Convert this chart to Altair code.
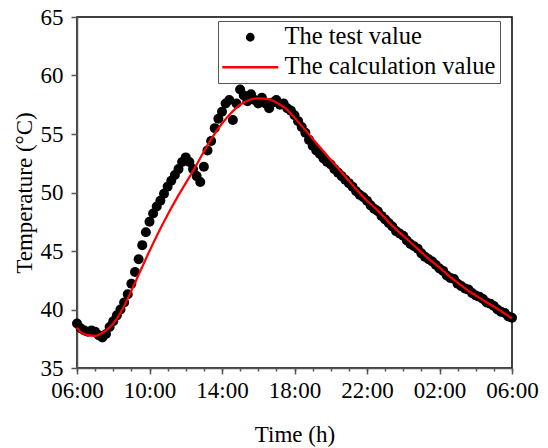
import altair as alt
import pandas as pd

SERIES = ["The test value", "The calculation value"]

# Hours after 06:00, sampled every 0.2 h
test_hours = [round(i * 0.2, 1) for i in range(121)]
test_temp = [
    38.8, 38.4, 38.2, 38.1, 38.2,   # 0-1
    38.1, 37.8, 37.6, 37.9, 38.5,   # 1-2
    39.0, 39.5, 40.0, 40.6, 41.3,   # 2-3
    42.2, 43.2, 44.3, 45.5, 46.6,   # 3-4
    47.5, 48.2, 48.8, 49.3, 49.9,   # 4-5
    50.5, 51.0, 51.5, 52.0, 52.6,   # 5-6
    53.0, 52.6, 52.0, 51.4, 50.9,   # 6-7
    52.2, 53.6, 54.4, 55.5, 56.3,   # 7-8
    56.9, 57.6, 57.9, 56.2, 57.6,   # 8-9
    58.8, 58.3, 57.8, 58.4, 57.9,   # 9-10
    57.6, 58.1, 57.6, 57.2, 57.7,   # 10-11
    57.9, 57.5, 57.6, 57.2, 57.0,   # 11-12
    56.6, 56.1, 55.6, 55.1, 54.5,   # 12-13
    54.0, 53.6, 53.3, 52.9, 52.6,   # 13-14
    52.4, 52.0, 51.7, 51.4, 51.1,   # 14-15
    50.8, 50.5, 50.1, 49.8, 49.6,   # 15-16
    49.3, 48.9, 48.6, 48.4, 48.0,   # 16-17
    47.7, 47.4, 47.1, 46.7, 46.5,   # 17-18
    46.3, 45.9, 45.6, 45.4, 45.2,   # 18-19
    44.8, 44.5, 44.3, 44.1, 43.8,   # 19-20
    43.5, 43.3, 42.9, 42.7, 42.6,   # 20-21
    42.2, 42.0, 41.8, 41.7, 41.4,   # 21-22
    41.2, 41.1, 40.9, 40.6, 40.5,   # 22-23
    40.3, 40.0, 39.8, 39.7, 39.4,   # 23-24
    39.3,
]

calc_hours = [0.0, 0.25, 0.5, 1.0, 1.5, 2.0, 2.5, 3.0, 3.5, 4.0, 4.5, 5.0, 5.5, 6.0,
              6.5, 7.0, 7.5, 8.0, 8.5, 9.0, 9.5, 10.0, 10.5, 11.0, 11.5, 12.0, 12.5,
              13.0, 13.5, 14.0, 14.5, 15.0, 15.5, 16.0, 16.5, 17.0, 17.5, 18.0, 18.5,
              19.0, 19.5, 20.0, 20.5, 21.0, 21.5, 22.0, 22.5, 23.0, 23.5, 24.0]
calc_temp = [38.45, 38.0, 37.85, 37.75, 38.1, 38.8, 40.0, 41.6, 43.3, 45.0, 46.6, 48.1,
             49.5, 50.8, 52.1, 53.5, 54.8, 55.9, 56.8, 57.5, 57.9, 58.05, 58.0, 57.7,
             57.2, 56.4, 55.5, 54.6, 53.7, 52.8, 51.9, 51.0, 50.1, 49.3, 48.6, 47.8,
             47.0, 46.3, 45.6, 44.9, 44.2, 43.6, 42.9, 42.3, 41.7, 41.2, 40.7, 40.25,
             39.75, 39.25]

major_ticks = [0, 4, 8, 12, 16, 20, 24]
minor_ticks = list(range(0, 25))
y_ticks = [35, 40, 45, 50, 55, 60, 65]

df_test = pd.DataFrame({"h": test_hours, "T": test_temp, "series": SERIES[0]})
df_calc = pd.DataFrame({"h": calc_hours, "T": calc_temp, "series": SERIES[1]})

AXFONT = "Liberation Serif"
LGFONT = "Liberation Serif, Times New Roman, Times, DejaVu Serif, serif"
FS = 23
xscale = alt.Scale(domain=[0, 24], nice=False, zero=False)
yscale = alt.Scale(domain=[35, 65], nice=False, zero=False)

axis_style = dict(labelFont=AXFONT, titleFont=AXFONT,
                  labelFontSize=FS, titleFontSize=FS,
                  labelColor="black", titleColor="black", titleFontWeight="normal",
                  domainColor="#555", tickColor="#555", domainWidth=1.5, tickWidth=1.5,
                  grid=False)

y_axis = alt.Axis(values=y_ticks, tickSize=6, labelPadding=8,
                  title="Temperature (°C)", titleX=-53, titleY=175.5,
                  titleAngle=270, titleBaseline="middle", titleAlign="center",
                  **axis_style)

legend_kw = dict(
    orient="none", legendX=141, legendY=4, title=None,
    labelFont=LGFONT, labelFontSize=24.5, labelColor="black", labelLimit=400,
    padding=4, rowPadding=5, labelOffset=22, symbolOffset=16,
    strokeColor="#555", fillColor="white",
    symbolStrokeWidth=2.5, symbolOpacity=1, symbolSize=40,
)

color_scale = alt.Scale(domain=SERIES, range=["black", "red"])

points = alt.Chart(df_test).mark_point(filled=True, opacity=1, size=100).encode(
    x=alt.X("h:Q", scale=xscale,
            axis=alt.Axis(values=major_ticks, orient="bottom", tickSize=6,
                          labelPadding=16, labelBaseline="middle",
                          labelFlush=False, labelOverlap=False,
                          labelExpr="format((datum.value + 6) % 24, '02d') + ':00'",
                          title="Time (h)", titleY=66, titleBaseline="middle",
                          **axis_style)),
    y=alt.Y("T:Q", scale=yscale, axis=y_axis),
    color=alt.Color("series:N", scale=color_scale, legend=alt.Legend(**legend_kw)),
    shape=alt.Shape("series:N",
                    scale=alt.Scale(domain=SERIES, range=["circle", "M-8.85,0H8.85"]),
                    legend=alt.Legend(**legend_kw)),
)

line = alt.Chart(df_calc).mark_line(strokeWidth=2.2, interpolate="monotone").encode(
    x=alt.X("h:Q", scale=xscale,
            axis=alt.Axis(values=minor_ticks, orient="bottom", tickSize=3,
                          labels=False, domain=False, title=None,
                          tickColor="#555", tickWidth=1.5, grid=False)),
    y=alt.Y("T:Q", scale=yscale, axis=y_axis),
    color=alt.Color("series:N", scale=color_scale, legend=alt.Legend(**legend_kw)),
)

chart = alt.layer(points, line).resolve_axis(x="independent").properties(
    width=435, height=351,
    autosize=alt.AutoSizeParams(type="none"),
    padding={"left": 77, "top": 17, "right": 36, "bottom": 80},
    background="white",
).configure_view(stroke="black", strokeWidth=1.5)

chart.save("out.html", embed_options={"renderer": "svg", "actions": False})
